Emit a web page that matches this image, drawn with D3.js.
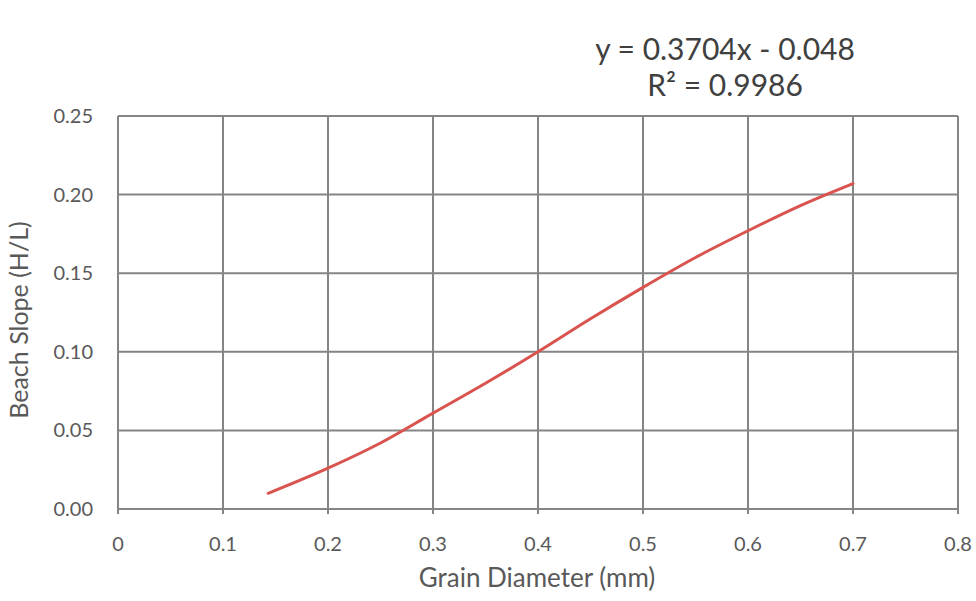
<!DOCTYPE html>
<html>
<head>
<meta charset="utf-8">
<script src="https://cdn.jsdelivr.net/npm/d3@7"></script>
<style>
  html, body { margin: 0; padding: 0; background: #ffffff; }
  svg { display: block; }
  text { font-family: Lato, "Open Sans", sans-serif; fill: #595959; }
</style>
</head>
<body>
<svg id="chart" width="976" height="601"></svg>
<script>
// Data
const grainDiameter = [0.143, 0.2, 0.25, 0.3, 0.35, 0.4, 0.45, 0.5, 0.55, 0.6, 0.65, 0.7];
const beachSlope    = [0.010, 0.026, 0.042, 0.061, 0.080, 0.100, 0.121, 0.141, 0.160, 0.177, 0.193, 0.207];
const xTicks = [0, 0.1, 0.2, 0.3, 0.4, 0.5, 0.6, 0.7, 0.8];
const xTickLabels = ["0", "0.1", "0.2", "0.3", "0.4", "0.5", "0.6", "0.7", "0.8"];
const yTicks = [0, 0.05, 0.10, 0.15, 0.20, 0.25];
const yTickLabels = ["0.00", "0.05", "0.10", "0.15", "0.20", "0.25"];
const equationLines = ["y = 0.3704x - 0.048", "R² = 0.9986"];
const xTitle = "Grain Diameter (mm)";
const yTitle = "Beach Slope (H/L)";

const svg = d3.select("#chart");
const margin = { left: 118, right: 18, top: 116, bottom: 92 };
const W = 976, H = 601;
const x = d3.scaleLinear().domain([0, 0.8]).range([margin.left, W - margin.right]);
const y = d3.scaleLinear().domain([0, 0.25]).range([H - margin.bottom, margin.top]);

const gridColor = "#858585";

// Horizontal gridlines
svg.append("g").selectAll("line").data(yTicks).join("line")
  .attr("x1", x(0)).attr("x2", x(0.8))
  .attr("y1", d => y(d)).attr("y2", d => y(d))
  .attr("stroke", gridColor).attr("stroke-width", 2);

// Vertical gridlines (extend slightly below as tick marks)
svg.append("g").selectAll("line").data(xTicks).join("line")
  .attr("x1", d => x(d)).attr("x2", d => x(d))
  .attr("y1", y(0.25)).attr("y2", y(0) + 5)
  .attr("stroke", gridColor).attr("stroke-width", 2);

// X tick labels
svg.append("g").selectAll("text").data(xTicks).join("text")
  .attr("x", d => x(d)).attr("y", y(0) + 42)
  .attr("text-anchor", "middle")
  .attr("font-size", 20)
  .text((d, i) => xTickLabels[i]);

// Y tick labels
svg.append("g").selectAll("text").data(yTicks).join("text")
  .attr("x", 93).attr("y", d => y(d) + 7)
  .attr("text-anchor", "end")
  .attr("font-size", 20)
  .text((d, i) => yTickLabels[i]);

// Axis titles
svg.append("text")
  .attr("x", 537).attr("y", 587)
  .attr("text-anchor", "middle").attr("font-size", 26)
  .text(xTitle);

svg.append("text")
  .attr("transform", `translate(28, 320) rotate(-90)`)
  .attr("text-anchor", "middle").attr("font-size", 25)
  .text(yTitle);

// Data line
const pts = grainDiameter.map((d, i) => [d, beachSlope[i]]);
svg.append("path")
  .datum(pts)
  .attr("fill", "none")
  .attr("stroke", "#d9534f")
  .attr("stroke-width", 3)
  .attr("stroke-linecap", "round")
  .attr("d", d3.line().x(d => x(d[0])).y(d => y(d[1])).curve(d3.curveMonotoneX));

// Trendline equation
svg.append("g").selectAll("text").data(equationLines).join("text")
  .attr("x", 725).attr("y", (d, i) => 60 + i * 36)
  .attr("text-anchor", "middle")
  .attr("font-size", 30)
  .style("fill", "#404040")
  .text(d => d);
</script>
</body>
</html>
